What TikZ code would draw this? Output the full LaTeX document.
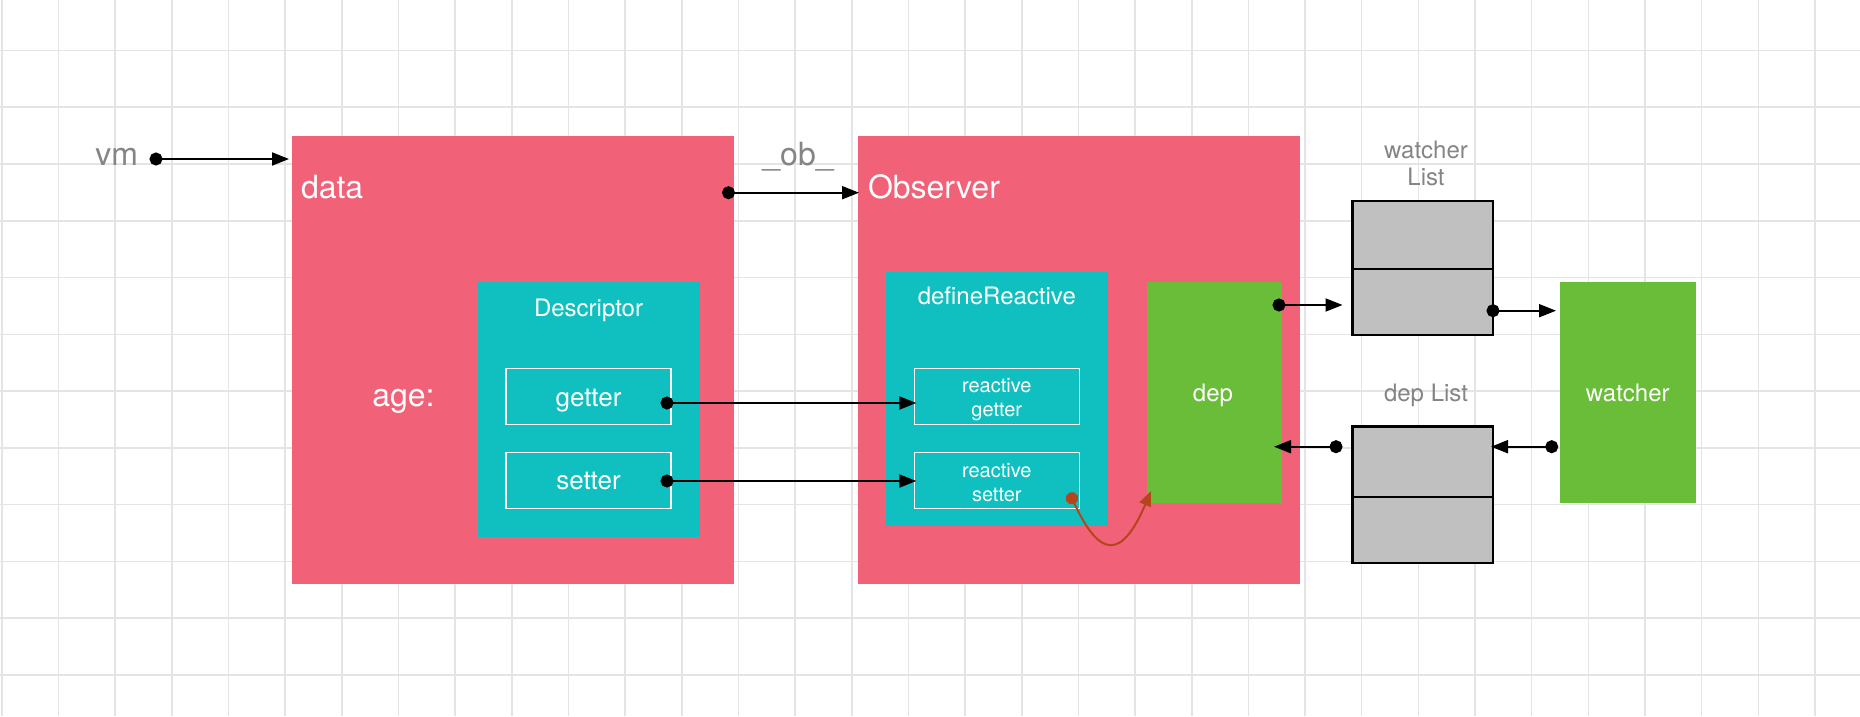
\documentclass[tikz,border=0pt]{standalone}
\usepackage{fontspec}
\setmainfont{TeX Gyre Heros}
\usetikzlibrary{arrows.meta}
\definecolor{pinkc}{HTML}{F16178}
\definecolor{tealc}{HTML}{10C0C0}
\definecolor{greenc}{HTML}{6ABD38}
\definecolor{grayc}{HTML}{C0C0C0}
\definecolor{gridc}{HTML}{E4E4E4}
\definecolor{labelc}{HTML}{858585}
\definecolor{brownc}{HTML}{B5461B}
\begin{document}
\begin{tikzpicture}[x=1pt,y=-1pt,
  box/.style={anchor=north west, inner sep=0pt, outer sep=0pt},
  pinkbox/.style={box, fill=pinkc},
  tealbox/.style={box, fill=tealc},
  greenbox/.style={box, fill=greenc},
  whitebox/.style={box, draw=white, line width=1.5pt, minimum width=165pt, minimum height=56pt},
  listcell/.style={box, fill=grayc, draw=black, line width=2.2pt, minimum width=140.5pt},
  gridline/.style={draw=gridc, line width=1.6pt},
  txt/.style={inner sep=0pt, outer sep=0pt},
  fbig/.style={font=\fontsize{32}{38}\selectfont},
  fmid/.style={font=\fontsize{24}{26.7}\selectfont},
  fget/.style={font=\fontsize{26}{30}\selectfont},
  fsmall/.style={font=\fontsize{20}{24.3}\selectfont},
  conn/.style={draw=black, line width=2pt, {Circle[length=13pt]}-{Triangle[length=17pt,width=13pt]}, shorten <=-6.5pt},
  brownconn/.style={draw=brownc, line width=2pt, {Circle[length=12.5pt]}-{Triangle[length=15pt,width=12pt]}, shorten <=-6.25pt}
]
\useasboundingbox (0,0) rectangle (1860,716);
\fill[white] (0,0) rectangle (1860,716);
% grid
\foreach \i in {0,...,32} \draw[gridline] (1.84+56.66*\i,0) -- (1.84+56.66*\i,716);
\foreach \j in {1,...,12} \draw[gridline] (0,-6.27+56.77*\j) -- (1860,-6.27+56.77*\j);

% main boxes
\node[pinkbox, minimum width=441.5pt, minimum height=447.6pt] (data) at (292,136) {};
\node[pinkbox, minimum width=442pt, minimum height=447.6pt] (observer) at (858,136) {};
\node[tealbox, minimum width=221.5pt, minimum height=254.7pt] (descriptor) at (478,282.3) {};
\node[whitebox] (getter) at (506,368.3) {};
\node[whitebox] (setter) at (506,452.5) {};
\node[tealbox, minimum width=221.6pt, minimum height=253.5pt] (define) at (886,272) {};
\node[whitebox] (rgetter) at (914.3,368.3) {};
\node[whitebox] (rsetter) at (914.3,452.5) {};
\node[greenbox, minimum width=135.5pt, minimum height=221.3pt] (dep) at (1146.5,282) {};
\node[greenbox, minimum width=135.8pt, minimum height=221pt] (watcher) at (1560,282) {};
\node[listcell, minimum height=68.3pt] (wlA) at (1352.5,200.7) {};
\node[listcell, minimum height=66pt] (wlB) at (1352.5,269) {};
\node[listcell, minimum height=70.5pt] (dlA) at (1352.5,426.5) {};
\node[listcell, minimum height=66pt] (dlB) at (1352.5,497) {};

% texts
\node[txt, fbig, text=labelc, anchor=base east] (vm) at (138,165) {vm};
\node[txt, fbig, text=white, anchor=base west] (datat) at (301,198) {data};
\node[txt, fbig, text=labelc, anchor=base] (ob) at (798,165) {\_ob\_};
\node[txt, fbig, text=white, anchor=base west] (observert) at (868,198) {Observer};
\node[txt, fbig, text=white, anchor=base] (age) at (403.5,406.5) {age:};
\node[txt, fmid, text=white, anchor=base] (descriptort) at (588.5,316) {Descriptor};
\node[txt, fget, text=white, anchor=base] (gettert) at (588.5,406) {getter};
\node[txt, fget, text=white, anchor=base] (settert) at (588.5,489.5) {setter};
\node[txt, fmid, text=white, anchor=base] (definet) at (996.8,304) {defineReactive};
\node[txt, fsmall, text=white, anchor=base, align=center] (rgettert) at (996.8,416.7) {reactive\\getter};
\node[txt, fsmall, text=white, anchor=base, align=center] (rsettert) at (996.8,501.5) {reactive\\setter};
\node[txt, fmid, text=white, anchor=base] (dept) at (1213,401) {dep};
\node[txt, fmid, text=white, anchor=base] (watchert) at (1627.8,401.5) {watcher};
\node[txt, fmid, text=labelc, anchor=base, align=center] (wlt) at (1426,185) {watcher\\List};
\node[txt, fmid, text=labelc, anchor=base] (dlt) at (1426,401) {dep List};

% connector end points
\coordinate (vmdot) at (156,159);
\coordinate (obdot) at (728.5,192.7);
\coordinate (gdot) at (667,403);
\coordinate (sdot) at (667,481);
\coordinate (depdot) at (1279,305);
\coordinate (wldot) at (1493,310.7);
\coordinate (wdot) at (1551.7,446.7);
\coordinate (dldot) at (1336,446.7);
\coordinate (bdot) at (1072,498.3);
\coordinate (btip) at (1151,491);

% connectors
\draw[conn] (vmdot) -- ([xshift=-3pt]data.west |- vmdot);
\draw[conn] (obdot) -- ([xshift=1pt]observer.west |- obdot);
\draw[conn] (gdot) -- ([xshift=2pt]rgetter.west |- gdot);
\draw[conn] (sdot) -- ([xshift=2pt]rsetter.west |- sdot);
\draw[conn] (depdot) -- ([xshift=-10pt]wlB.west |- depdot);
\draw[conn] (wldot) -- ([xshift=-4pt]watcher.west |- wldot);
\draw[conn] (wdot) -- ([xshift=-2pt]dlA.east |- wdot);
\draw[conn] (dldot) -- ([xshift=-8pt]dep.east |- dldot);
\draw[brownconn] (bdot) .. controls (1100,559) and (1122,559) .. (btip);
\end{tikzpicture}
\end{document}
